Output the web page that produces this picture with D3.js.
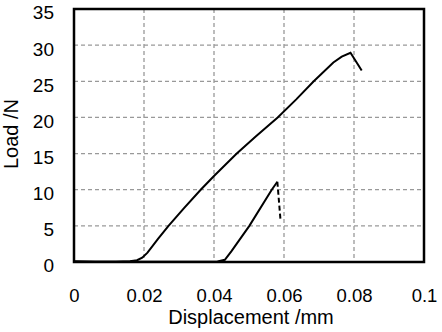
<!DOCTYPE html>
<html><head><meta charset="utf-8">
<script src="https://cdn.jsdelivr.net/npm/d3@7/dist/d3.min.js"></script>
<style>body{margin:0;background:#fff}svg{display:block}text{font-family:"Liberation Sans",Arial,sans-serif;fill:#000}</style>
</head><body>
<svg id="c" width="442" height="332"></svg>
<script>
// Data
const xTicks = [0, 0.02, 0.04, 0.06, 0.08, 0.1];
const xTickLabels = ["0", "0.02", "0.04", "0.06", "0.08", "0.1"];
const yTicks = [0, 5, 10, 15, 20, 25, 30, 35];
const curve1X = [0, 0.006, 0.012, 0.016, 0.018, 0.0195, 0.021, 0.024, 0.027, 0.0315, 0.0362, 0.04, 0.0465, 0.052, 0.0582, 0.0635, 0.0685, 0.0741, 0.0765, 0.079, 0.0822];
const curve1Y = [0.1, 0.05, 0.05, 0.1, 0.25, 0.6, 1.3, 3.2, 5, 7.5, 10, 11.9, 15, 17.4, 20, 22.5, 25, 27.6, 28.4, 28.95, 26.5];
const curve2X = [0, 0.02, 0.041, 0.0431, 0.045, 0.0501, 0.0565, 0.0581];
const curve2Y = [0.05, 0.05, 0.08, 0.3, 1.5, 5, 10, 11.1];
const drop2X = [0.0581, 0.059];
const drop2Y = [11.1, 5.8];

const svg = d3.select("#c");
const L = 74, R = 424, T = 9, B = 262;
const x = d3.scaleLinear().domain([0, 0.1]).range([L, R]);
const y = d3.scaleLinear().domain([0, 35]).range([B, T]);

// grid
svg.append("g").selectAll("line").data(xTicks.slice(1, -1)).join("line")
  .attr("x1", d => x(d)).attr("x2", d => x(d)).attr("y1", T).attr("y2", B)
  .attr("stroke", "#999").attr("stroke-width", 1.3).attr("stroke-dasharray", "4,3");
svg.append("g").selectAll("line").data(yTicks.slice(1, -1)).join("line")
  .attr("y1", d => y(d)).attr("y2", d => y(d)).attr("x1", L).attr("x2", R)
  .attr("stroke", "#999").attr("stroke-width", 1.3).attr("stroke-dasharray", "4,3");

// axes (labels only)
const xAxis = d3.axisBottom(x).tickValues(xTicks).tickFormat((d, i) => xTickLabels[i]).tickSize(0).tickPadding(0);
const gx = svg.append("g").attr("transform", `translate(0,${B})`).call(xAxis);
gx.select(".domain").remove();
gx.selectAll("text").attr("font-size", 18.5).attr("dy", null).attr("y", 40)
  .style("font-family", '"Liberation Sans",Arial,sans-serif');

const yAxis = d3.axisLeft(y).tickValues(yTicks).tickSize(0).tickPadding(0);
const gy = svg.append("g").attr("transform", `translate(${L},0)`).call(yAxis);
gy.select(".domain").remove();
gy.selectAll("text").attr("font-size", 19).attr("x", -20).attr("dy", "0.52em")
  .style("font-family", '"Liberation Sans",Arial,sans-serif');

// lines
const line = d3.line().x(d => x(d[0])).y(d => y(d[1]));
const c1 = curve1X.map((d, i) => [d, curve1Y[i]]);
const c2 = curve2X.map((d, i) => [d, curve2Y[i]]);
const d2 = drop2X.map((d, i) => [d, drop2Y[i]]);
svg.append("path").attr("d", line(c2)).attr("fill", "none").attr("stroke", "#000").attr("stroke-width", 2);
svg.append("path").attr("d", line(d2)).attr("fill", "none").attr("stroke", "#000").attr("stroke-width", 2).attr("stroke-dasharray", "5,3");
svg.append("path").attr("d", line(c1)).attr("fill", "none").attr("stroke", "#000").attr("stroke-width", 2);

// frame
svg.append("rect").attr("x", L).attr("y", T).attr("width", R - L).attr("height", B - T)
  .attr("fill", "none").attr("stroke", "#000").attr("stroke-width", 2.5);

// titles
svg.append("text").attr("x", (L + R) / 2 + 2).attr("y", 324).attr("text-anchor", "middle")
  .attr("font-size", 20).text("Displacement /mm");
svg.append("text").attr("transform", `translate(18,134) rotate(-90)`).attr("text-anchor", "middle")
  .attr("font-size", 20).text("Load /N");
</script>
</body></html>
